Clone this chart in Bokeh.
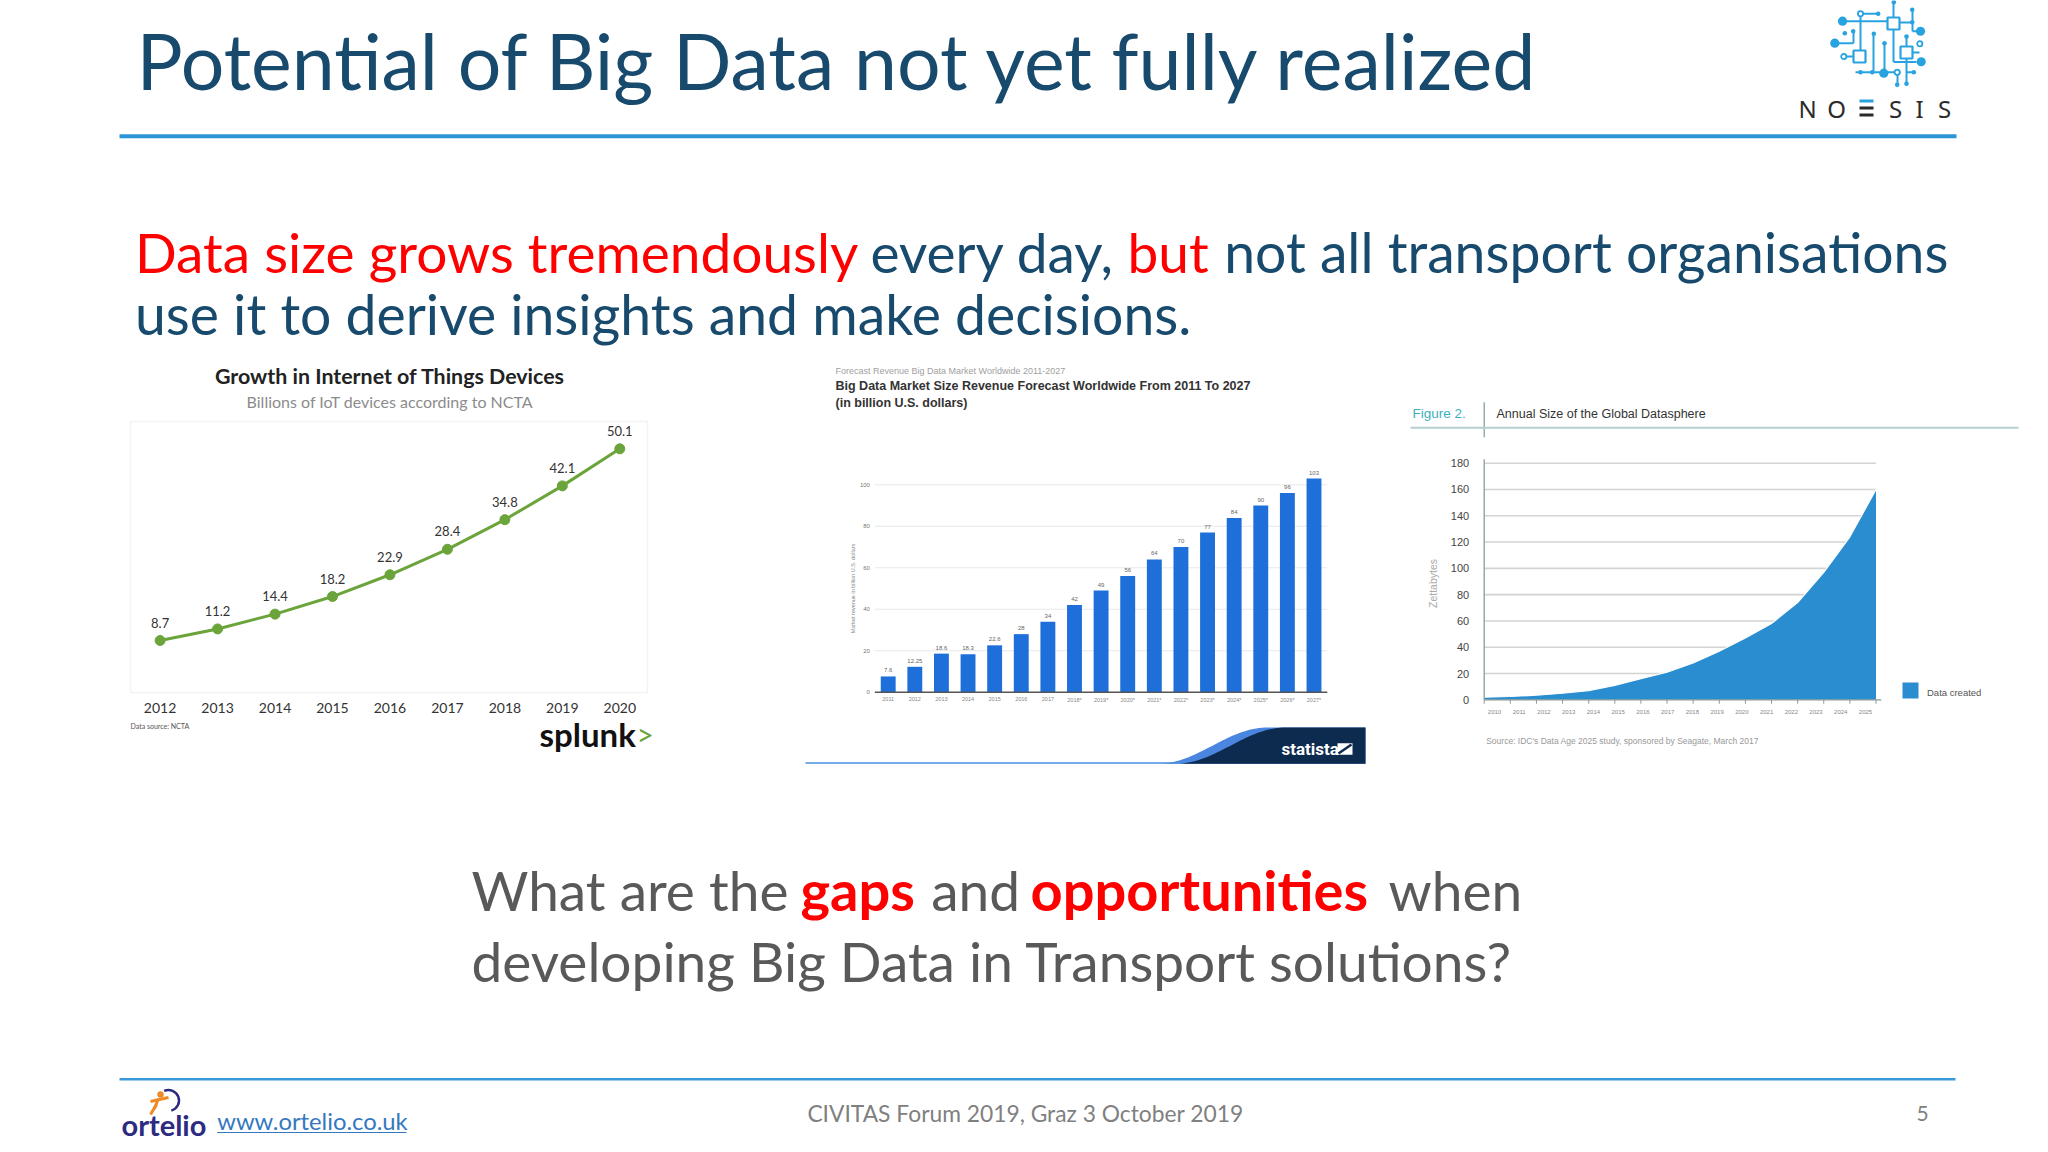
import numpy as np
from bokeh.plotting import figure
from bokeh.models import Range1d
from bokeh.embed import file_html
from bokeh.resources import INLINE
from bokeh.core.properties import value

# ---------------- data ----------------
iot_years = [2012, 2013, 2014, 2015, 2016, 2017, 2018, 2019, 2020]
iot_devices = [8.7, 11.2, 14.4, 18.2, 22.9, 28.4, 34.8, 42.1, 50.1]

market_years = [2011, 2012, 2013, 2014, 2015, 2016, 2017, 2018, 2019,
                2020, 2021, 2022, 2023, 2024, 2025, 2026, 2027]
market_year_labels = ["2011", "2012", "2013", "2014", "2015", "2016", "2017", "2018*", "2019*",
                      "2020*", "2021*", "2022*", "2023*", "2024*", "2025*", "2026*", "2027*"]
market_revenue = [7.6, 12.25, 18.6, 18.3, 22.6, 28, 34, 42, 49, 56, 64, 70, 77, 84, 90, 96, 103]
market_ticks = [0, 20, 40, 60, 80, 100]

sphere_years = [2010, 2011, 2012, 2013, 2014, 2015, 2016, 2017,
                2018, 2019, 2020, 2021, 2022, 2023, 2024, 2025]
sphere_zettabytes = [2, 2.5, 3.5, 5, 7, 11, 16, 21, 28, 37, 47, 58, 74, 97, 124, 160]
sphere_ticks = [0, 20, 40, 60, 80, 100, 120, 140, 160, 180]

# ---------------- colours ----------------
TITLE_BLUE = "#174A6C"
RED = "#FF0000"
QGRAY = "#595959"
RULE_BLUE = "#2A96D6"
IOT_GREEN = "#6BA43A"
MKT_BLUE = "#1F6FDA"
AREA_BLUE = "#2A8DD0"
LOGO_BLUE = "#29A3E0"

# ---------------- canvas ----------------
W, H = 2048, 1152
LEFT, TOP = 0, 0
RIGHT, BOTTOM = LEFT + W, TOP + H

p = figure(width=W, height=H, x_range=Range1d(LEFT, RIGHT), y_range=Range1d(BOTTOM, TOP),
           output_backend="svg", toolbar_location=None,
           x_axis_location=None, y_axis_location=None, min_border=0)
p.xgrid.visible = False
p.ygrid.visible = False
p.outline_line_color = None
p.background_fill_color = "white"
p.border_fill_color = "white"


def scale_range(v_a, px_a, v_b, px_b, px_from, px_to):
    k = (v_b - v_a) / (px_b - px_a)
    return Range1d(start=v_a + (px_from - px_a) * k, end=v_a + (px_to - px_a) * k)


p.extra_x_ranges = {
    "iot_x": scale_range(iot_years[0], 159.6, iot_years[-1], 619.3, LEFT, RIGHT),
    "mkt_x": scale_range(market_years[0], 887.7, market_years[-1], 1313.5, LEFT, RIGHT),
    "sph_x": scale_range(sphere_years[0], 1483.7, sphere_years[-1], 1875.5, LEFT, RIGHT),
    "sph_lab": scale_range(sphere_years[0], 1494.0, sphere_years[-1], 1865.0, LEFT, RIGHT),
}
p.extra_y_ranges = {
    "iot_y": scale_range(0, 680.3, 50, 448.8, BOTTOM, TOP),
    "mkt_y": scale_range(0, 691.7, 100, 484.3, BOTTOM, TOP),
    "sph_y": scale_range(0, 699.3, 180, 462.7, BOTTOM, TOP),
}


def put(x, y, s, size, color, font="Lato", style="normal", align="left",
        baseline="middle", angle=0.0, alpha=1.0):
    p.text(x=[x], y=[y], text=[s], text_font=value(font), text_font_size=f"{size}px",
           text_color=color, text_font_style=style, text_align=align,
           text_baseline=baseline, angle=angle, text_alpha=alpha)


# ================= HEADER =================
put(136, 59.5, "Potential of Big Data not yet fully realized", 77, TITLE_BLUE)
p.segment(x0=[119], y0=[135.7], x1=[1956], y1=[135.7], line_color=RULE_BLUE, line_width=4)

# NOESIS logo (decoration)
lx0 = [1842, 1893, 1899, 1893, 1893, 1860, 1860, 1834, 1843, 1853, 1873, 1855, 1884, 1906, 1912,
       1897, 1906, 1906, 1912, 1912]
ly0 = [20.7, 1.7, 22, 29, 61.5, 13.3, 13.3, 42.7, 56, 30.7, 33.3, 71.7, 42.7, 36, 52,
       71.7, 58, 71.7, 9.3, 30.7]
lx1 = [1887, 1893, 1912, 1893, 1916, 1878, 1860, 1853, 1853, 1853, 1873, 1900, 1884, 1906, 1919,
       1897, 1906, 1913, 1912, 1920]
ly1 = [20.7, 17, 22, 61.5, 61.5, 13.3, 50, 42.7, 56, 42.7, 71.7, 71.7, 72, 46, 52,
       84.3, 83.3, 71.7, 30.7, 30.7]
p.segment(x0=lx0, y0=ly0, x1=lx1, y1=ly1, line_color=LOGO_BLUE, line_width=2)
p.rect(x=[1893, 1859, 1906], y=[23, 56, 52], width=12, height=12,
       fill_color="white", line_color=LOGO_BLUE, line_width=2.2)
p.circle(x=[1842, 1834.3, 1920, 1920.7, 1883.3], y=[20.7, 42.7, 30.7, 61.3, 72.7],
         radius=4.6, fill_color=LOGO_BLUE, line_color=None)
p.circle(x=[1877.7, 1893.3, 1911.7, 1911.7, 1852.7, 1844.3, 1873.3, 1884, 1906, 1871.7,
            1896.7, 1906, 1860, 1913.3],
         y=[13.3, 1.7, 9.3, 21.7, 30.7, 32.7, 33.3, 42.7, 36, 71.7, 84.3, 83.3, 71.7, 71.7],
         radius=2.3, fill_color=LOGO_BLUE, line_color=None)
p.circle(x=[1860, 1919.3, 1843.3, 1896.7], y=[13.3, 43.3, 56, 71.7], radius=2.6,
         fill_color="white", line_color=LOGO_BLUE, line_width=1.8)
letters_x = [1807, 1836, 1866, 1895, 1919, 1944]
for lx, ch in zip(letters_x, ["N", "O", "", "S", "I", "S"]):
    if ch:
        put(lx, 107.5, ch, 24, "#2B2B2B", font="Noto Sans", align="center")
p.segment(x0=[letters_x[2] - 7] * 3, x1=[letters_x[2] + 7] * 3, y0=[100.5, 107.5, 114.5],
          y1=[100.5, 107.5, 114.5], line_color=[LOGO_BLUE, "#2B2B2B", "#2B2B2B"], line_width=2.8)

# subtitle
put(134.5, 251, "Data size grows tremendously", 55, RED)
put(870, 251, "every day,", 55, TITLE_BLUE)
put(1127, 251, "but", 55, RED)
put(1223.7, 251, "not all transport organisations", 55.3, TITLE_BLUE)
put(134.5, 312.7, "use it to derive insights and make decisions.", 55.3, TITLE_BLUE)

# ================= CHART 1 : IoT devices =================
p.quad(left=[130], right=[647], top=[421], bottom=[692], fill_color="white",
       line_color="#F3F3F3", line_width=1.5)
put(389.5, 375, "Growth in Internet of Things Devices", 21.4, "#222222", style="bold",
    align="center")
put(389.5, 400.7, "Billions of IoT devices according to NCTA", 16, "#8C8C8C", align="center")
p.line(iot_years, iot_devices, line_color=IOT_GREEN, line_width=3,
       x_range_name="iot_x", y_range_name="iot_y")
p.scatter(iot_years, iot_devices, size=10, fill_color=IOT_GREEN, line_color=IOT_GREEN,
          x_range_name="iot_x", y_range_name="iot_y")
p.text(x=iot_years, y=iot_devices, text=[f"{v}" for v in iot_devices],
       text_font=value("Lato"), text_font_size="13px", text_color="#333333",
       text_align="center", text_baseline="middle", y_offset=-18,
       x_range_name="iot_x", y_range_name="iot_y")
p.text(x=iot_years, y=[0] * len(iot_years), text=[str(y) for y in iot_years],
       text_font=value("Lato"), text_font_size="14px", text_color="#333333",
       text_align="center", text_baseline="middle", y_offset=27,
       x_range_name="iot_x", y_range_name="iot_y")
put(130, 725, "Data source: NCTA", 7, "#555555")
put(539, 733, "splunk", 33, "#111111", style="bold")
put(636, 733, ">", 30, IOT_GREEN)

# ================= CHART 2 : Big data market =================
put(835, 370, "Forecast Revenue Big Data Market Worldwide 2011-2027", 9, "#A0A0A0",
    font="Liberation Sans")
put(835, 385, "Big Data Market Size Revenue Forecast Worldwide From 2011 To 2027", 12.5,
    "#333333", font="Liberation Sans", style="bold")
put(835, 402.7, "(in billion U.S. dollars)", 12.5, "#333333", font="Liberation Sans",
    style="bold")
p.segment(x0=[market_years[0] - 0.5] * (len(market_ticks) - 1),
          x1=[market_years[-1] + 0.5] * (len(market_ticks) - 1),
          y0=market_ticks[1:], y1=market_ticks[1:], line_color="#E8E8E8", line_width=1,
          x_range_name="mkt_x", y_range_name="mkt_y")
p.vbar(x=market_years, top=market_revenue, bottom=0, width=0.56, fill_color=MKT_BLUE,
       line_color=None, x_range_name="mkt_x", y_range_name="mkt_y")
p.segment(x0=[market_years[0] - 0.5], x1=[market_years[-1] + 0.5], y0=[0], y1=[0],
          line_color="#555555", line_width=1.5, x_range_name="mkt_x", y_range_name="mkt_y")
p.text(x=[market_years[0] - 0.5] * len(market_ticks), y=market_ticks,
       text=[str(t) for t in market_ticks], text_font=value("Liberation Sans"),
       text_font_size="6px", text_color="#777777", text_align="right",
       text_baseline="middle", x_offset=-5, x_range_name="mkt_x", y_range_name="mkt_y")
p.text(x=market_years, y=market_revenue, text=[f"{v:g}" for v in market_revenue],
       text_font=value("Liberation Sans"), text_font_size="6px", text_color="#666666",
       text_align="center", text_baseline="bottom", y_offset=-4,
       x_range_name="mkt_x", y_range_name="mkt_y")
p.text(x=market_years, y=[0] * len(market_years), text=market_year_labels,
       text_font=value("Liberation Sans"), text_font_size="5.5px", text_color="#888888",
       text_align="center", text_baseline="top", y_offset=5,
       x_range_name="mkt_x", y_range_name="mkt_y")
put(852, 588, "Market revenue in billion U.S. dollars", 5.5, "#888888",
    font="Liberation Sans", align="center", angle=np.pi / 2)
# statista brand strip (decoration)
t = np.linspace(0, 1, 40)
sx = 1175 + 110 * t
sy = 763.3 - 36.3 * (0.5 - 0.5 * np.cos(np.pi * t))
p.patch(x=list(sx - 18) + [1365, 1365], y=list(sy) + [727, 763.3], fill_color="#4A86E0",
        line_color=None)
p.patch(x=list(sx) + [1365, 1365], y=list(sy) + [727, 763.3], fill_color="#0D2A4F",
        line_color=None)
p.segment(x0=[805], x1=[1180], y0=[762.5], y1=[762.5], line_color="#4A8FE0", line_width=1.6)
put(1281, 748, "statista", 17, "white", font="Roboto", style="bold")
p.rect(x=[1344.5], y=[748.5], width=15, height=11.5, fill_color="white", line_color=None)
p.segment(x0=[1338], x1=[1351], y0=[753], y1=[744], line_color="#0D2A4F", line_width=2.5)

# ================= CHART 3 : Global datasphere =================
put(1412, 413.3, "Figure 2.", 13.5, "#3DB0C0", font="Liberation Sans")
p.segment(x0=[1483.7], x1=[1483.7], y0=[401.7], y1=[436.7], line_color="#7A9A9A", line_width=1.2)
put(1496, 413.3, "Annual Size of the Global Datasphere", 12.5, "#333333", font="Liberation Sans")
p.segment(x0=[1410], x1=[2018], y0=[427.3], y1=[427.3], line_color="#B5CFCF", line_width=2)
p.segment(x0=[sphere_years[0]] * (len(sphere_ticks) - 1),
          x1=[sphere_years[-1]] * (len(sphere_ticks) - 1),
          y0=sphere_ticks[1:], y1=sphere_ticks[1:], line_color="#D3D3D3", line_width=1.6,
          x_range_name="sph_x", y_range_name="sph_y")
p.varea(x=sphere_years, y1=[0] * len(sphere_years), y2=sphere_zettabytes,
        fill_color=AREA_BLUE, x_range_name="sph_x", y_range_name="sph_y")
p.line(x=sphere_years, y=sphere_zettabytes, line_color="white", line_width=1.2,
       x_range_name="sph_x", y_range_name="sph_y")
p.segment(x0=[sphere_years[0]], x1=[sphere_years[0]], y0=[0], y1=[sphere_ticks[-1] + 3],
          line_color="#8A9A9A", line_width=1.3, x_range_name="sph_x", y_range_name="sph_y")
p.segment(x0=[sphere_years[0]], x1=[sphere_years[-1] + 0.2], y0=[0], y1=[0],
          line_color="#8A9A9A", line_width=1.3, x_range_name="sph_x", y_range_name="sph_y")
p.segment(x0=sphere_years, x1=sphere_years, y0=[0] * len(sphere_years),
          y1=[-3] * len(sphere_years), line_color="#8A9A9A", line_width=1,
          x_range_name="sph_x", y_range_name="sph_y")
p.text(x=[sphere_years[0]] * len(sphere_ticks), y=sphere_ticks,
       text=[str(t) for t in sphere_ticks], text_font=value("Liberation Sans"),
       text_font_size="11px", text_color="#444444", text_align="right",
       text_baseline="middle", x_offset=-15, x_range_name="sph_x", y_range_name="sph_y")
p.text(x=sphere_years, y=[0] * len(sphere_years), text=[str(y) for y in sphere_years],
       text_font=value("Liberation Sans"), text_font_size="6px", text_color="#888888",
       text_align="center", text_baseline="middle", y_offset=12.5,
       x_range_name="sph_lab", y_range_name="sph_y")
put(1432.7, 583, "Zettabytes", 10.5, "#AAAAAA", font="Liberation Sans", align="center",
    angle=np.pi / 2)
p.rect(x=[1910], y=[690], width=16, height=16, fill_color=AREA_BLUE, line_color=None)
put(1926.5, 691.7, "Data created", 9.5, "#555555", font="Liberation Sans")
put(1485.7, 740.7, "Source: IDC's Data Age 2025 study, sponsored by Seagate, March 2017", 8.5,
    "#999999", font="Liberation Sans")

# ================= QUESTION =================
put(471, 889, "What are the", 55, QGRAY)
put(800, 889, "gaps", 56, RED, style="bold")
put(930.7, 889, "and", 55, QGRAY)
put(1030, 889, "opportunities", 56, RED, style="bold")
put(1388, 889, "when", 55, QGRAY)
put(471, 960, "developing Big Data in Transport solutions?", 55, QGRAY)

# ================= FOOTER =================
p.segment(x0=[119], x1=[1955], y0=[1078.7], y1=[1078.7], line_color="#3A9AD9", line_width=2.5)
put(121, 1123.5, "ortelio", 29, "#2D2B7F", style="bold")
p.arc(x=[168], y=[1100], radius=10.5, start_angle=-1.3, end_angle=2.0, line_color="#2D2B7F",
      line_width=2.5)
p.circle(x=[160], y=[1094], radius=3.2, fill_color="#F08A24", line_color=None)
p.segment(x0=[158, 150, 156], y0=[1098, 1101, 1104], x1=[154, 168, 150], y1=[1108, 1097, 1114],
          line_color="#F08A24", line_width=3)
put(216.7, 1120.5, "www.ortelio.co.uk", 23.8, "#3478C0")
p.segment(x0=[216.7], x1=[406], y0=[1132], y1=[1132], line_color="#3478C0", line_width=1.2)
put(1025, 1112.7, "CIVITAS Forum 2019, Graz 3 October 2019", 22.8, "#808080", align="center")
put(1922, 1113, "5", 21, "#808080", align="center")

open("out.html", "w").write(file_html(p, INLINE))
